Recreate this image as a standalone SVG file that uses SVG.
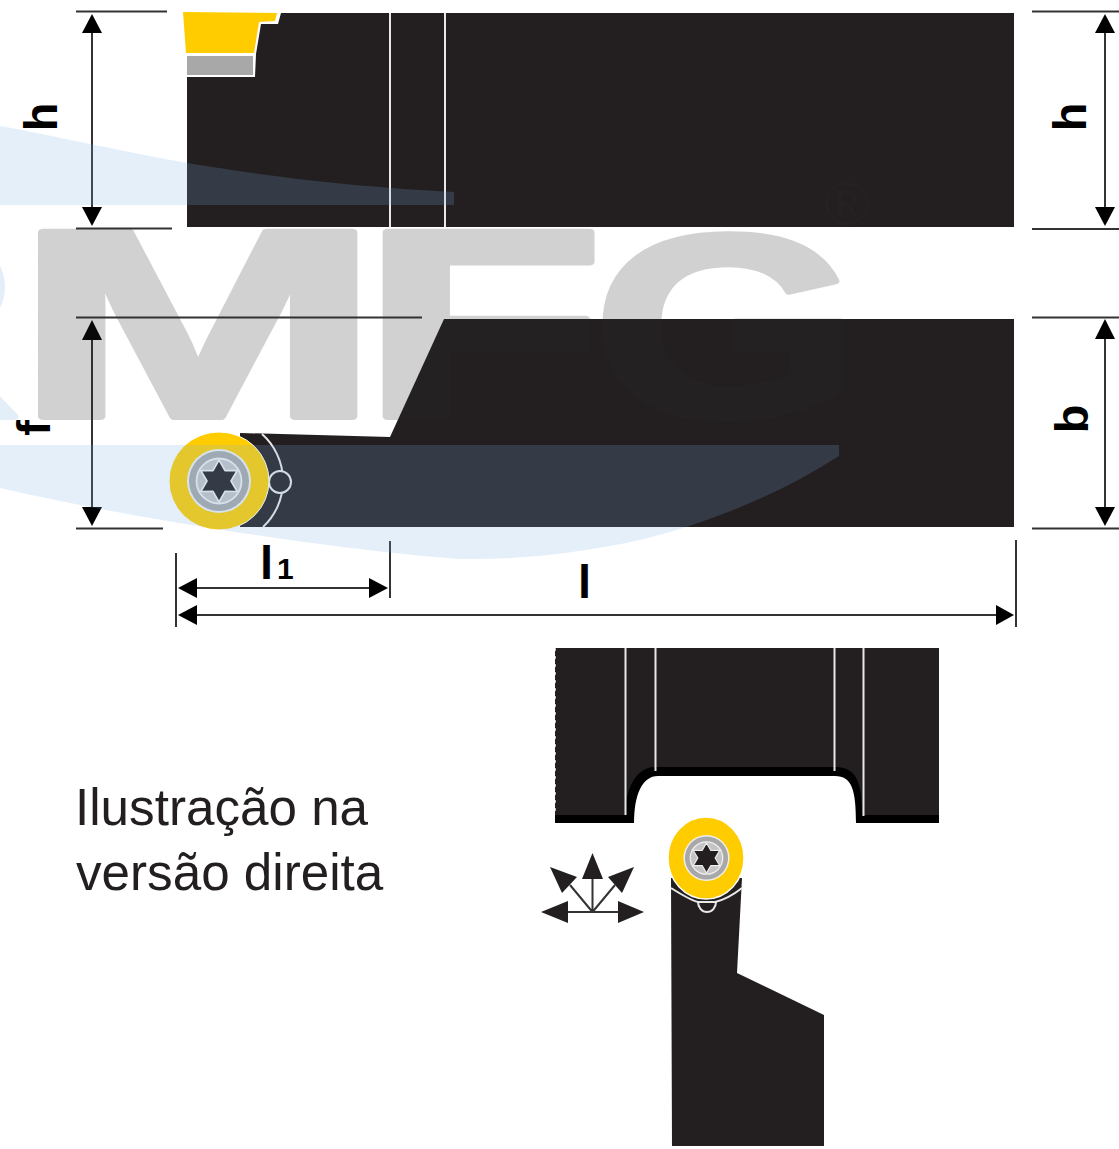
<svg xmlns="http://www.w3.org/2000/svg" xmlns:xlink="http://www.w3.org/1999/xlink" width="1119" height="1149" viewBox="0 0 1119 1149">
<style>
.body{fill:#231f20}
.wl{stroke:#e8e8e8;stroke-width:2;fill:none}
.dim{stroke:#333;stroke-width:2;fill:none}
.head{fill:#000}
.lab{font-family:"Liberation Sans",Arial,sans-serif;font-weight:700;fill:#000}
.note{font-family:"Liberation Sans",Arial,sans-serif;font-size:51.2px;fill:#231f20}
.wmg{font-family:"Liberation Sans",Arial,sans-serif;font-weight:700;font-size:100px;stroke-width:2.5;stroke-linejoin:round}
.blue{fill:rgb(120,175,225);fill-opacity:.2}
.ar{fill:#231f20}
</style>
<defs>
<g id="screw">
<circle r="32" fill="#eef0f0"/>
<circle r="30" fill="#a8a8a8"/>
<circle r="22.5" fill="#c4c4c4" stroke="#eeeeee" stroke-width="1.8"/>
<polygon points="0,-21 6,-10.4 18.2,-10.5 12,0 18.2,10.5 6,10.4 0,21 -6,10.4 -18.2,10.5 -12,0 -18.2,-10.5 -6,-10.4" fill="#231f20" stroke="#eeeeee" stroke-width="1.6" stroke-linejoin="round"/>
</g>
</defs>
<rect width="1119" height="1149" fill="#fff"/>

<g id="top-view">
<rect class="body" x="187" y="13" width="827" height="214"/>
<polygon points="183,11 281,13 278,24 261,24 256,54 255,77 187,77 187,13" fill="#fff"/>
<polygon points="183,12 277,13 275,21 259,22 254,53 186,53" fill="#ffcc00"/>
<rect x="187" y="56" width="66" height="19" fill="#a8a8a8"/>
<path class="wl" d="M390,13V227M445,13V227"/>
</g>

<g id="side-view">
<path class="body" d="M240,433L390,437L444,319H1014V527H240Z"/>
<path class="wl" d="M262,434A63,63 0 0 1 263,527"/>
<circle cx="280" cy="482" r="11" fill="#231f20" stroke="#e8e8e8" stroke-width="2"/>
<ellipse cx="219" cy="481" rx="50" ry="49" fill="#ffcc00" stroke="#fff" stroke-width="1"/>
<use xlink:href="#screw" href="#screw" transform="translate(219,481)"/>
</g>

<g id="end-view">
<path fill="#000" d="M555,648H939V823H856C856,790 852,776 835,776H658C642,776 634,795 634,823H555Z"/>
<path class="body" d="M555,648H939V815H862C862,785 858,767 835,767H655C636,767 625,790 625,815H555Z"/>
<path class="wl" d="M625.500,648V815M655.500,648V771M834.500,648V771M863.500,648V816"/>
<path d="M555,648V815" stroke="#fff" stroke-width="1.4" stroke-dasharray="3 5" fill="none"/>
</g>

<g id="plan-view">
<path class="body" d="M671,878H742L737,973L824,1015V1146H672Z"/>
<path class="wl" d="M671,888Q690,900 698,902M715,902Q728,899 742,888"/>
<path d="M698,902A9,10 0 0 0 716,902Z" fill="#231f20" stroke="#e8e8e8" stroke-width="2"/>
<ellipse cx="706" cy="858" rx="38" ry="41" fill="#ffcc00" stroke="#fff" stroke-width="1.4"/>
<use xlink:href="#screw" href="#screw" transform="translate(706.500,858) scale(.72)"/>
</g>

<g id="feed-arrows">
<path d="M568,912H618M592.500,912V879M592.500,912L570,885M592.500,912L615,885" stroke="#333" stroke-width="2" fill="none"/>
<polygon class="ar" points="541,912 568,901 568,923"/>
<polygon class="ar" points="644,912 618,901 618,923"/>
<polygon class="ar" points="592.500,853 582,879 603,879"/>
<polygon class="ar" points="550,867 577,877 562,893"/>
<polygon class="ar" points="634,867 608,877 622,893"/>
</g>

<g id="connectors">
<path class="dim" d="M76,11.500H167M76,228.500H172M92,33V207M76,317.500H422M76,528.500H163M92,340V507M1032,11.500H1119M1032,229H1119M1105,33V207M1032,317.500H1119M1032,528.500H1119M1105,339V507M176,553V627M390,541V598M197,588H369M197,615H996M1016,540V627"/>
<polygon class="head" points="92,14 82,33 102,33"/>
<polygon class="head" points="92,226 82,207 102,207"/>
<polygon class="head" points="92,320 82,340 102,340"/>
<polygon class="head" points="92,526 82,507 102,507"/>
<polygon class="head" points="1105,14 1095,33 1115,33"/>
<polygon class="head" points="1105,226 1095,207 1115,207"/>
<polygon class="head" points="1105,319 1095,339 1115,339"/>
<polygon class="head" points="1105,526 1095,507 1115,507"/>
<polygon class="head" points="178,588 197,578 197,598"/>
<polygon class="head" points="388,588 369,578 369,598"/>
<polygon class="head" points="178,615 197,605 197,625"/>
<polygon class="head" points="1014,615 996,605 996,625"/>
</g>

<g id="labels">
<text class="lab" font-size="47" text-anchor="middle" transform="translate(56.500,117) rotate(-90)">h</text>
<text class="lab" font-size="47" text-anchor="middle" transform="translate(50,428) rotate(-90)">f</text>
<text class="lab" font-size="47" text-anchor="middle" transform="translate(1086,117) rotate(-90)">h</text>
<text class="lab" font-size="47" text-anchor="middle" transform="translate(1088,419) rotate(-90)">b</text>
<text class="lab" font-size="47" x="260" y="579">l<tspan font-size="30" dx="4">1</tspan></text>
<text class="lab" font-size="47" x="578" y="598">l</text>
<text class="note" x="75" y="825">Ilustração na</text>
<text class="note" x="76" y="890">versão direita</text>
</g>

<g id="watermark">
<g opacity=".21" fill="#2a2a2a" stroke="#2a2a2a">
<text class="wmg" transform="translate(14,416.600) scale(4.41,2.68)">M</text>
<text class="wmg" transform="translate(361,416.600) scale(3.98,2.68)">F</text>
<text class="wmg" transform="translate(592.500,416) scale(3.46,2.6)">G</text>
</g>
<g opacity=".2" fill="rgb(120,175,225)" stroke="rgb(120,175,225)">
<text class="wmg" transform="translate(-267,416.600) scale(4,2.68)">R</text>
</g>
<text font-family="Liberation Sans,Arial,sans-serif" font-size="62" text-anchor="middle" x="847" y="225" fill="#2a2a2a" fill-opacity=".21">®</text>
<path class="blue" d="M0,126C60,137 130,153 187,163C260,175 340,186 454,192V205H0Z"/>
<path class="blue" d="M0,445H839V456C770,500 700,525 640,540C580,553 520,560 460,559C370,553 160,525 0,488Z"/>
</g>
</svg>
